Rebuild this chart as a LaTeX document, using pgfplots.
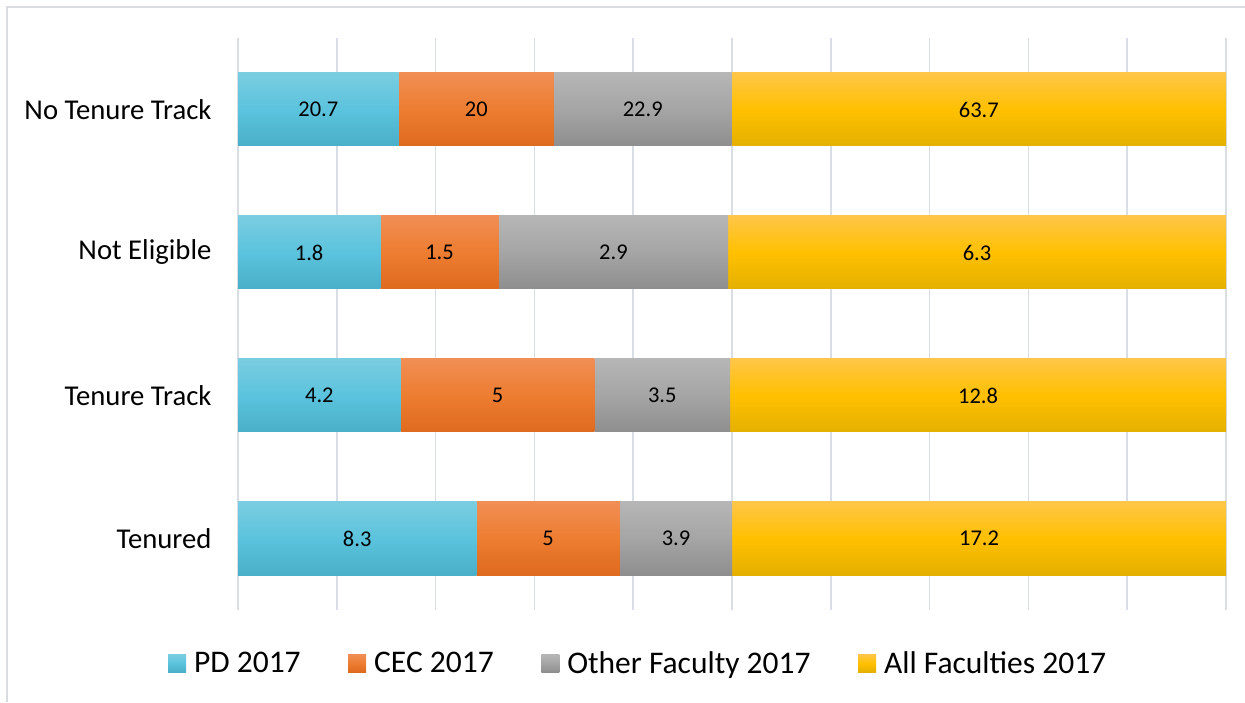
\documentclass[border=0pt]{standalone}
\usepackage{pgfplots}
\pgfplotsset{compat=1.18}
\usepackage{pgfplotstable}
\usepackage{fontspec}
\setmainfont{Carlito}

\definecolor{pdT}{RGB}{122,205,224}
\definecolor{pdM}{RGB}{91,195,221}
\definecolor{pdB}{RGB}{74,175,201}
\definecolor{ceT}{RGB}{241,142,85}
\definecolor{ceM}{RGB}{237,125,49}
\definecolor{ceB}{RGB}{222,106,30}
\definecolor{otT}{RGB}{182,182,182}
\definecolor{otM}{RGB}{165,165,165}
\definecolor{otB}{RGB}{142,142,142}
\definecolor{alT}{RGB}{255,198,72}
\definecolor{alM}{RGB}{255,192,0}
\definecolor{alB}{RGB}{228,176,0}
\definecolor{gridc}{RGB}{217,222,230}
\definecolor{borderc}{RGB}{217,220,225}

\pgfplotstableread{
idx pd cec oth all
0 8.3 5 3.9 17.2
1 4.2 5 3.5 12.8
2 1.8 1.5 2.9 6.3
3 20.7 20 22.9 63.7
}\data

\newcommand{\tot}{(\thisrow{pd}+\thisrow{cec}+\thisrow{oth}+\thisrow{all})}

\pgfplotsset{
  frame/.style={
    at={(238pt,92pt)}, anchor=south west,
    scale only axis, width=988pt, height=572pt,
    xmin=0, xmax=100, ymin=-0.5, ymax=3.5},
  pdS/.style={draw=none, top color=pdT, bottom color=pdB, middle color=pdM},
  ceS/.style={draw=none, top color=ceT, bottom color=ceB, middle color=ceM},
  otS/.style={draw=none, top color=otT, bottom color=otB, middle color=otM},
  alS/.style={draw=none, top color=alT, bottom color=alB, middle color=alM},
}

\begin{document}
\begin{tikzpicture}[x=1pt,y=1pt]
\useasboundingbox (0,0) rectangle (1245,702);
\draw[borderc, line width=1.5pt] (7,0) -- (7,695) -- (1245,695);
% background axis: grid, category labels, legend
\begin{axis}[frame,
  xtick={0,10,...,100}, xticklabels={},
  xmajorgrids, grid style={gridc, line width=1.5pt},
  major tick length=0pt,
  axis line style={draw=none},
  ytick={0,1,2,3},
  yticklabels={Tenured, Tenure Track, Not Eligible, No Tenure Track},
  yticklabel style={font=\fontsize{28.7}{32}\selectfont, xshift=-23pt},
  legend columns=4,
  legend style={draw=none, fill=none, at={(0.404,-0.093)}, anchor=center,
    font=\fontsize{31.5}{36}\selectfont,
    nodes={inner sep=0pt},
    /tikz/every odd column/.append style={column sep=8pt},
    /tikz/every even column/.append style={column sep=47.5pt}},
  legend image code/.code={\path[#1, draw=none] (0pt,-9pt) rectangle (18pt,9pt);},
]
\addlegendimage{pdS}
\addlegendimage{ceS}
\addlegendimage{otS}
\addlegendimage{alS}
\legend{PD 2017, CEC 2017, Other Faculty 2017, All Faculties 2017}
\end{axis}
% one axis per category so that each bar gets its own gradient
\pgfplotsinvokeforeach{0,1,2,3}{
\begin{axis}[frame, hide axis, xbar stacked, bar width=73pt,
  restrict y to domain=#1:#1]
\addplot[pdS] table[y=idx, x expr={\thisrow{pd}/\tot*100}] \data;
\addplot[ceS] table[y=idx, x expr={\thisrow{cec}/\tot*100}] \data;
\addplot[otS] table[y=idx, x expr={\thisrow{oth}/\tot*100}] \data;
\addplot[alS] table[y=idx, x expr={\thisrow{all}/\tot*100}] \data;
\end{axis}
}
% value labels, centred in each segment
\begin{axis}[frame, hide axis,
  nodes near coords,
  point meta=explicit symbolic,
  every node near coord/.append style={anchor=center, font=\fontsize{22.5}{26}\selectfont, text=black},
]
\addplot[draw=none, mark=none]
  table[y=idx, x expr={\thisrow{pd}/2/\tot*100}, meta=pd] \data;
\addplot[draw=none, mark=none]
  table[y=idx, x expr={(\thisrow{pd}+\thisrow{cec}/2)/\tot*100}, meta=cec] \data;
\addplot[draw=none, mark=none]
  table[y=idx, x expr={(\thisrow{pd}+\thisrow{cec}+\thisrow{oth}/2)/\tot*100}, meta=oth] \data;
\addplot[draw=none, mark=none]
  table[y=idx, x expr={(\thisrow{pd}+\thisrow{cec}+\thisrow{oth}+\thisrow{all}/2)/\tot*100}, meta=all] \data;
\end{axis}
\end{tikzpicture}
\end{document}
